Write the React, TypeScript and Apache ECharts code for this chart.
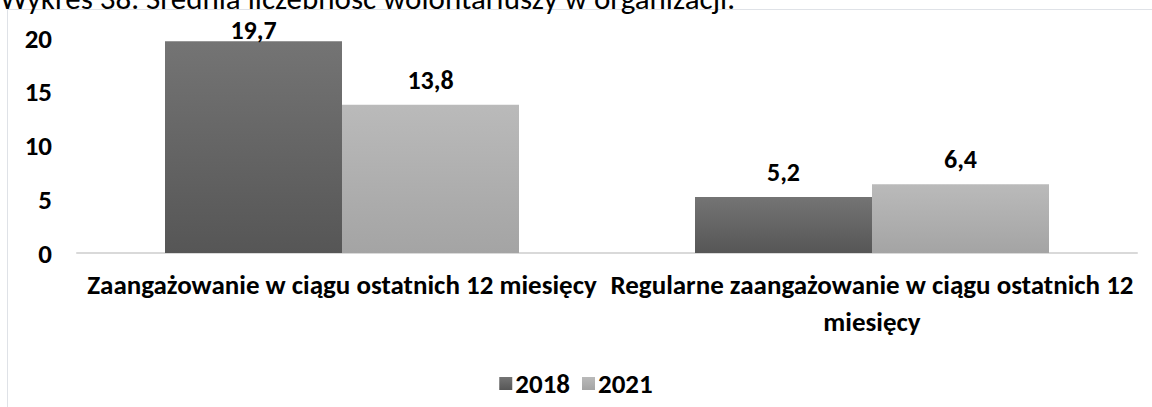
import React, { useEffect, useRef } from "react";
import * as echarts from "echarts";

const categories = [
  "Zaangażowanie w ciągu ostatnich 12 miesięcy",
  "Regularne zaangażowanie w ciągu ostatnich 12\nmiesięcy",
];
const seriesNames = ["2018", "2021"];
const values2018 = [19.7, 5.2];
const values2021 = [13.8, 6.4];
const yTicks = { min: 0, max: 20, interval: 5 };
const titleText = "Wykres 38. Średnia liczebność wolontariuszy w organizacji.";

const FONT = "Calibri, Carlito, 'Open Sans', sans-serif";
const FS = 27;

function grad(top: string, bottom: string) {
  return new echarts.graphic.LinearGradient(0, 0, 0, 1, [
    { offset: 0, color: top },
    { offset: 1, color: bottom },
  ]);
}

export default function App() {
  const ref = useRef<HTMLDivElement>(null);
  useEffect(() => {
    if (!ref.current) return;
    const chart = echarts.init(ref.current, undefined, { renderer: "svg" });
    const labelStyle = {
      show: true,
      position: "top" as const,
      distance: 12,
      fontFamily: FONT,
      fontWeight: "bold" as const,
      fontSize: 26,
      color: "#000",
      formatter: (p: any) => String(p.value).replace(".", ","),
    };
    const maxVal = Math.max(...values2018, ...values2021);
    const mk = (vals: number[]) =>
      vals.map((v) => (v === maxVal ? { value: v, label: { distance: -2 } } : { value: v }));
    chart.setOption({
      animation: false,
      textStyle: { fontFamily: FONT },
      graphic: [
        {
          type: "rect",
          shape: { x: 7.5, y: 9.5, width: 1300, height: 600 },
          style: { fill: "none", stroke: "#dfe2e7", lineWidth: 1 },
          silent: true,
        },
        {
          type: "text",
          x: 0,
          y: -18,
          style: {
            text: titleText,
            fontFamily: FONT,
            fontSize: 31,
            fill: "#000",
          },
          silent: true,
        },
      ],
      grid: { left: 77, right: 15, top: 38, bottom: 154, containLabel: false },
      legend: {
        data: seriesNames,
        left: "center",
        top: 365,
        itemWidth: 13,
        itemHeight: 13,
        itemGap: 12,
        icon: "rect",
        textStyle: {
          fontFamily: FONT,
          fontWeight: "bold",
          fontSize: FS,
          color: "#000",
          padding: [0, 0, 0, -2],
        },
      },
      xAxis: {
        type: "category",
        data: categories,
        axisLine: { lineStyle: { color: "#d9d9d9", width: 2 } },
        axisTick: { show: false },
        axisLabel: {
          interval: 0,
          margin: 13,
          fontFamily: FONT,
          fontWeight: "bold",
          fontSize: FS,
          lineHeight: 37,
          color: "#000",
        },
      },
      yAxis: {
        type: "value",
        min: yTicks.min,
        max: yTicks.max,
        interval: yTicks.interval,
        splitLine: { show: false },
        axisLine: { show: false },
        axisTick: { show: false },
        axisLabel: {
          margin: 25,
          fontFamily: FONT,
          fontWeight: "bold",
          fontSize: FS,
          color: "#000",
        },
      },
      series: [
        {
          name: seriesNames[0],
          type: "bar",
          data: mk(values2018),
          barWidth: 177,
          barGap: "0%",
          itemStyle: { color: grad("#747474", "#565656") },
          label: labelStyle,
        },
        {
          name: seriesNames[1],
          type: "bar",
          data: mk(values2021),
          barWidth: 177,
          barGap: "0%",
          itemStyle: { color: grad("#bababa", "#a4a4a4") },
          label: labelStyle,
        },
      ],
    });
    return () => chart.dispose();
  }, []);
  return (
    <div
      ref={ref}
      style={{ position: "fixed", left: 0, top: 0, width: 1152, height: 407, background: "#fff" }}
    />
  );
}
